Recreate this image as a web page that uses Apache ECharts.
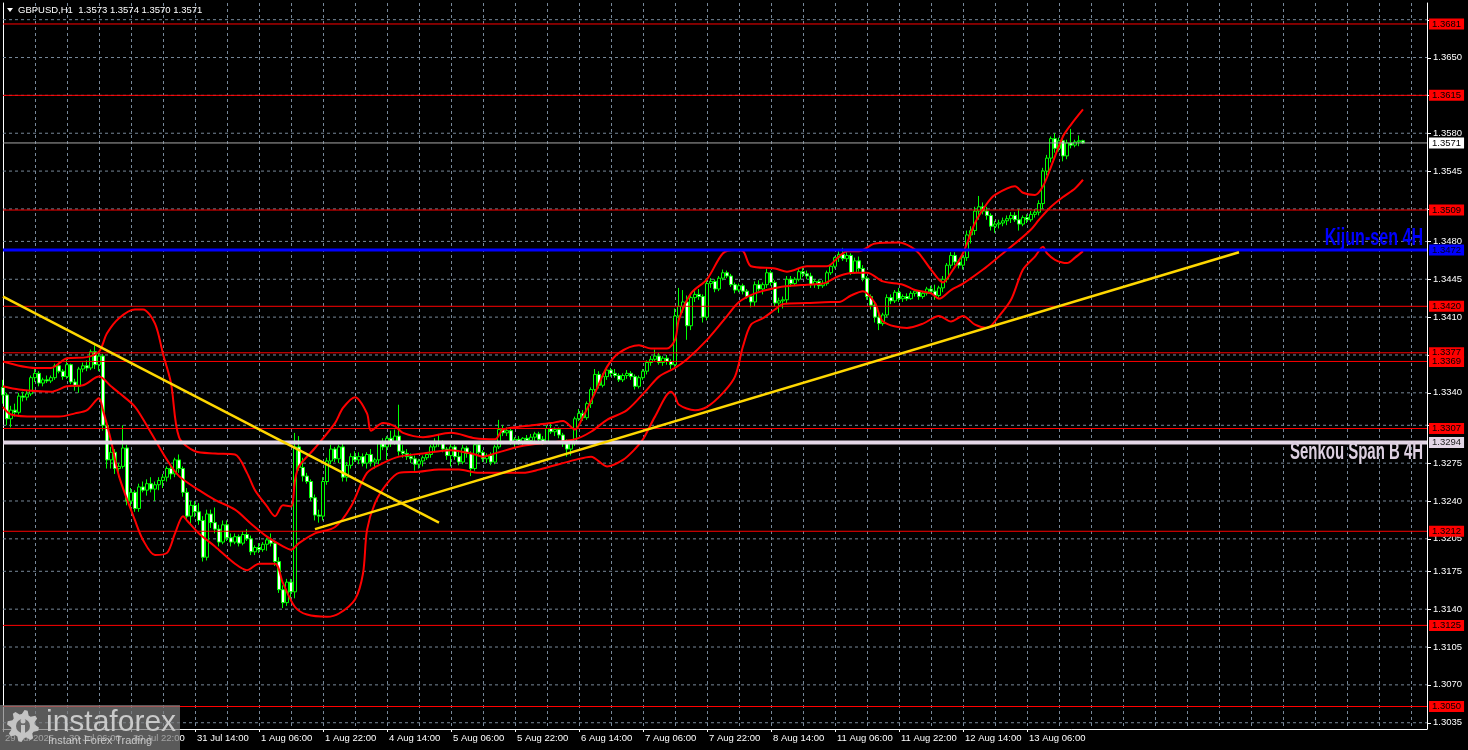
<!DOCTYPE html>
<html><head><meta charset="utf-8">
<script src="https://cdn.jsdelivr.net/npm/echarts@6/dist/echarts.min.js"></script>
<style>html,body{margin:0;padding:0;background:#000;}#main{width:1468px;height:750px;}</style>
</head><body><div id="main"></div>
<script>
// ---------------- DATA ----------------
const symbolTitle = 'GBPUSD,H1';
// hourly candles [open, high, low, close], grouped by trading day (server time)
const jul29 = [
[1.3345,1.3352,1.3330,1.3338],[1.3338,1.3340,1.3310,1.3316],[1.3316,1.3328,1.3308,1.3324],[1.3324,1.3330,1.3318,1.3322],
[1.3322,1.3340,1.3320,1.3337],[1.3337,1.3341,1.3332,1.3336],[1.3336,1.3342,1.3333,1.3339],[1.3339,1.3356,1.3337,1.3354],
[1.3354,1.3362,1.3350,1.3358],[1.3358,1.3360,1.3346,1.3349]];
const jul30 = [
[1.3349,1.3354,1.3346,1.3352],[1.3352,1.3356,1.3349,1.3351],[1.3351,1.3356,1.3349,1.3354],[1.3354,1.3367,1.3352,1.3365],
[1.3365,1.3368,1.3358,1.3360],[1.3360,1.3362,1.3352,1.3355],[1.3355,1.3372,1.3353,1.3366],[1.3366,1.3367,1.3348,1.3350],
[1.3350,1.3353,1.3342,1.3346],[1.3346,1.3364,1.3340,1.3362],[1.3362,1.3368,1.3359,1.3365],[1.3365,1.3370,1.3360,1.3363],
[1.3363,1.3380,1.3361,1.3378],[1.3378,1.3384,1.3362,1.3366],[1.3366,1.3377,1.3360,1.3374],[1.3374,1.3376,1.3305,1.3310],
[1.3310,1.3313,1.3270,1.3278],[1.3278,1.3290,1.3270,1.3285],[1.3285,1.3288,1.3265,1.3270],[1.3270,1.3275,1.3262,1.3272],
[1.3272,1.3310,1.3270,1.3289],[1.3289,1.3292,1.3236,1.3240],[1.3240,1.3252,1.3234,1.3248],[1.3248,1.3250,1.3230,1.3233]];
const jul31 = [
[1.3233,1.3256,1.3230,1.3253],[1.3253,1.3258,1.3248,1.3250],[1.3250,1.3260,1.3245,1.3256],[1.3256,1.3262,1.3248,1.3251],
[1.3251,1.3258,1.3240,1.3255],[1.3255,1.3262,1.3250,1.3259],[1.3259,1.3265,1.3252,1.3262],[1.3262,1.3272,1.3258,1.3270],
[1.3270,1.3274,1.3260,1.3265],[1.3265,1.3280,1.3262,1.3278],[1.3278,1.3283,1.3266,1.3270],[1.3270,1.3272,1.3244,1.3248],
[1.3248,1.3252,1.3222,1.3226],[1.3226,1.3240,1.3218,1.3236],[1.3236,1.3240,1.3225,1.3230],[1.3230,1.3238,1.3218,1.3222],
[1.3222,1.3226,1.3184,1.3188],[1.3188,1.3232,1.3185,1.3228],[1.3228,1.3232,1.3215,1.3220],[1.3220,1.3234,1.3210,1.3214],
[1.3214,1.3218,1.3198,1.3202],[1.3202,1.3222,1.3200,1.3218],[1.3218,1.3222,1.3203,1.3206],[1.3206,1.3210,1.3198,1.3202]];
const aug01 = [
[1.3202,1.3210,1.3200,1.3207],[1.3207,1.3209,1.3198,1.3201],[1.3201,1.3212,1.3199,1.3209],[1.3209,1.3214,1.3203,1.3205],
[1.3205,1.3208,1.3190,1.3193],[1.3193,1.3199,1.3190,1.3197],[1.3197,1.3201,1.3192,1.3195],[1.3195,1.3202,1.3193,1.3200],
[1.3200,1.3206,1.3194,1.3204],[1.3204,1.3210,1.3198,1.3201],[1.3201,1.3203,1.3180,1.3184],[1.3184,1.3188,1.3155,1.3158],
[1.3158,1.3162,1.3141,1.3146],[1.3146,1.3168,1.3143,1.3165],[1.3165,1.3168,1.3150,1.3156],[1.3156,1.3303,1.3150,1.3290],
[1.3290,1.3300,1.3268,1.3271],[1.3271,1.3280,1.3258,1.3263],[1.3263,1.3266,1.3256,1.3258],[1.3258,1.3260,1.3240,1.3243],
[1.3243,1.3246,1.3222,1.3227],[1.3227,1.3232,1.3220,1.3226],[1.3226,1.3262,1.3222,1.3258],[1.3258,1.3280,1.3255,1.3277]];
const aug04 = [
[1.3277,1.3292,1.3274,1.3288],[1.3288,1.3290,1.3276,1.3279],[1.3279,1.3292,1.3275,1.3290],[1.3290,1.3293,1.3258,1.3262],
[1.3262,1.3276,1.3258,1.3273],[1.3273,1.3284,1.3270,1.3281],[1.3281,1.3286,1.3276,1.3278],[1.3278,1.3285,1.3274,1.3281],
[1.3281,1.3284,1.3272,1.3275],[1.3275,1.3285,1.3270,1.3283],[1.3283,1.3288,1.3272,1.3276],[1.3276,1.3280,1.3270,1.3278],
[1.3278,1.3295,1.3274,1.3293],[1.3293,1.3298,1.3287,1.3290],[1.3290,1.3300,1.3278,1.3298],[1.3298,1.3305,1.3290,1.3294],
[1.3294,1.3306,1.3292,1.3300],[1.3300,1.3329,1.3282,1.3286],[1.3286,1.3292,1.3280,1.3284],[1.3284,1.3288,1.3278,1.3281],
[1.3281,1.3284,1.3275,1.3279],[1.3279,1.3282,1.3268,1.3274],[1.3274,1.3279,1.3270,1.3277],[1.3277,1.3282,1.3272,1.3280]];
const aug05 = [
[1.3280,1.3285,1.3278,1.3283],[1.3283,1.3292,1.3280,1.3290],[1.3290,1.3298,1.3286,1.3295],[1.3295,1.3302,1.3290,1.3293],
[1.3293,1.3296,1.3285,1.3288],[1.3288,1.3290,1.3278,1.3282],[1.3282,1.3293,1.3272,1.3290],[1.3290,1.3292,1.3278,1.3281],
[1.3281,1.3286,1.3273,1.3276],[1.3276,1.3292,1.3274,1.3289],[1.3289,1.3291,1.3280,1.3284],[1.3284,1.3286,1.3263,1.3270],
[1.3270,1.3294,1.3268,1.3292],[1.3292,1.3295,1.3283,1.3285],[1.3285,1.3287,1.3276,1.3279],[1.3279,1.3284,1.3275,1.3282],
[1.3282,1.3285,1.3273,1.3276],[1.3276,1.3292,1.3274,1.3290],[1.3290,1.3315,1.3288,1.3306],[1.3306,1.3310,1.3300,1.3303],
[1.3303,1.3308,1.3300,1.3305],[1.3305,1.3307,1.3292,1.3294],[1.3294,1.3299,1.3290,1.3297],[1.3297,1.3300,1.3292,1.3295]];
const aug06 = [
[1.3295,1.3299,1.3292,1.3298],[1.3298,1.3301,1.3293,1.3296],[1.3296,1.3302,1.3294,1.3299],[1.3299,1.3304,1.3295,1.3302],
[1.3302,1.3304,1.3294,1.3297],[1.3297,1.3300,1.3292,1.3295],[1.3295,1.3310,1.3293,1.3307],[1.3307,1.3312,1.3302,1.3304],
[1.3304,1.3308,1.3300,1.3306],[1.3306,1.3308,1.3298,1.3301],[1.3301,1.3303,1.3290,1.3293],[1.3293,1.3297,1.3281,1.3288],
[1.3288,1.3296,1.3282,1.3294],[1.3294,1.3318,1.3291,1.3316],[1.3316,1.3325,1.3314,1.3321],[1.3321,1.3324,1.3314,1.3317],
[1.3317,1.3332,1.3315,1.3330],[1.3330,1.3345,1.3326,1.3343],[1.3343,1.3362,1.3340,1.3357],[1.3357,1.3360,1.3344,1.3347],
[1.3347,1.3358,1.3345,1.3355],[1.3355,1.3364,1.3352,1.3361],[1.3361,1.3363,1.3355,1.3358],[1.3358,1.3362,1.3354,1.3356]];
const aug07 = [
[1.3356,1.3358,1.3350,1.3352],[1.3352,1.3358,1.3350,1.3356],[1.3356,1.3361,1.3353,1.3358],[1.3358,1.3360,1.3352,1.3355],
[1.3355,1.3357,1.3343,1.3346],[1.3346,1.3356,1.3344,1.3354],[1.3354,1.3362,1.3352,1.3360],[1.3360,1.3370,1.3357,1.3368],
[1.3368,1.3374,1.3365,1.3371],[1.3371,1.3380,1.3369,1.3374],[1.3374,1.3377,1.3366,1.3368],[1.3368,1.3374,1.3365,1.3372],
[1.3372,1.3375,1.3366,1.3369],[1.3369,1.3371,1.3362,1.3366],[1.3366,1.3418,1.3364,1.3411],[1.3411,1.3437,1.3408,1.3420],
[1.3420,1.3435,1.3414,1.3424],[1.3424,1.3430,1.3389,1.3402],[1.3402,1.3432,1.3398,1.3428],[1.3428,1.3434,1.3424,1.3431],
[1.3431,1.3436,1.3426,1.3429],[1.3429,1.3431,1.3405,1.3410],[1.3410,1.3446,1.3407,1.3441],[1.3441,1.3446,1.3437,1.3443]];
const aug08 = [
[1.3443,1.3445,1.3433,1.3436],[1.3436,1.3448,1.3434,1.3446],[1.3446,1.3454,1.3444,1.3451],[1.3451,1.3453,1.3446,1.3448],
[1.3448,1.3450,1.3438,1.3440],[1.3440,1.3442,1.3432,1.3435],[1.3435,1.3441,1.3433,1.3439],[1.3439,1.3441,1.3431,1.3434],
[1.3434,1.3436,1.3427,1.3429],[1.3429,1.3430,1.3419,1.3424],[1.3424,1.3443,1.3420,1.3440],[1.3440,1.3444,1.3434,1.3436],
[1.3436,1.3442,1.3431,1.3440],[1.3440,1.3455,1.3437,1.3451],[1.3451,1.3453,1.3439,1.3442],[1.3442,1.3444,1.3420,1.3423],
[1.3423,1.3428,1.3414,1.3425],[1.3425,1.3429,1.3418,1.3426],[1.3426,1.3448,1.3422,1.3445],[1.3445,1.3448,1.3438,1.3441],
[1.3441,1.3447,1.3439,1.3445],[1.3445,1.3455,1.3443,1.3452],[1.3452,1.3456,1.3447,1.3450],[1.3450,1.3453,1.3445,1.3448]];
const aug11 = [
[1.3448,1.3451,1.3437,1.3440],[1.3440,1.3445,1.3437,1.3443],[1.3443,1.3445,1.3436,1.3439],[1.3439,1.3444,1.3437,1.3441],
[1.3441,1.3453,1.3439,1.3451],[1.3451,1.3459,1.3449,1.3457],[1.3457,1.3466,1.3455,1.3465],[1.3465,1.3471,1.3461,1.3468],
[1.3468,1.3474,1.3462,1.3464],[1.3464,1.3470,1.3461,1.3467],[1.3467,1.3469,1.3449,1.3451],[1.3451,1.3465,1.3450,1.3462],
[1.3462,1.3466,1.3452,1.3455],[1.3455,1.3458,1.3443,1.3446],[1.3446,1.3448,1.3426,1.3429],[1.3429,1.3431,1.3417,1.3421],
[1.3421,1.3424,1.3405,1.3410],[1.3410,1.3415,1.3398,1.3404],[1.3404,1.3414,1.3402,1.3412],[1.3412,1.3431,1.3410,1.3428],
[1.3428,1.3431,1.3422,1.3425],[1.3425,1.3435,1.3423,1.3433],[1.3433,1.3437,1.3424,1.3427],[1.3427,1.3431,1.3424,1.3429]];
const aug12 = [
[1.3429,1.3432,1.3425,1.3427],[1.3427,1.3434,1.3426,1.3432],[1.3432,1.3436,1.3429,1.3434],[1.3434,1.3435,1.3426,1.3429],
[1.3429,1.3434,1.3427,1.3432],[1.3432,1.3438,1.3430,1.3436],[1.3436,1.3439,1.3432,1.3434],[1.3434,1.3440,1.3426,1.3430],
[1.3430,1.3439,1.3428,1.3437],[1.3437,1.3448,1.3433,1.3445],[1.3445,1.3460,1.3442,1.3458],[1.3458,1.3470,1.3455,1.3467],
[1.3467,1.3470,1.3458,1.3461],[1.3461,1.3463,1.3455,1.3458],[1.3458,1.3468,1.3454,1.3465],[1.3465,1.3490,1.3462,1.3486],
[1.3486,1.3494,1.3478,1.3490],[1.3490,1.3512,1.3486,1.3508],[1.3508,1.3522,1.3500,1.3512],[1.3512,1.3516,1.3505,1.3508],
[1.3508,1.3512,1.3500,1.3504],[1.3504,1.3506,1.3490,1.3494],[1.3494,1.3499,1.3488,1.3496],[1.3496,1.3500,1.3492,1.3497]];
const aug13 = [
[1.3497,1.3502,1.3494,1.3499],[1.3499,1.3504,1.3495,1.3501],[1.3501,1.3507,1.3497,1.3504],[1.3504,1.3507,1.3498,1.3500],
[1.3500,1.3510,1.3490,1.3496],[1.3496,1.3504,1.3494,1.3502],[1.3502,1.3505,1.3497,1.3500],[1.3500,1.3508,1.3498,1.3505],
[1.3505,1.3510,1.3502,1.3507],[1.3507,1.3518,1.3504,1.3515],[1.3515,1.3548,1.3510,1.3545],[1.3545,1.3560,1.3541,1.3557],
[1.3557,1.3577,1.3553,1.3575],[1.3575,1.3580,1.3562,1.3566],[1.3566,1.3576,1.3563,1.3573],[1.3573,1.3578,1.3554,1.3559],
[1.3559,1.3574,1.3556,1.3571],[1.3571,1.3584,1.3566,1.3569],[1.3569,1.3574,1.3567,1.3572],[1.3572,1.3578,1.3568,1.3573],
[1.3573,1.3574,1.3570,1.3571]];

// Bollinger bands: [bar index, price]
const bbUpper = [[0,1.3369],[8,1.3363],[12,1.3363],[16,1.3372],[21,1.3373],[24,1.3378],[26,1.3395],[29,1.3409],[33,1.3417],[35,1.3417],[38,1.3404],[40,1.3376],[42,1.3349],[44,1.3299],[48,1.3286],[53,1.3284],[58,1.3283],[61,1.3266],[63,1.3250],[66,1.3235],[68,1.3226],[70,1.3236],[72,1.3235],[73,1.3259],[74,1.3272],[78,1.3289],[83,1.3312],[85,1.3326],[88,1.3336],[91,1.3321],[92,1.3305],[95,1.3312],[98,1.3309],[100,1.3303],[105,1.3299],[112,1.3303],[118,1.3298],[123,1.3297],[125,1.3306],[130,1.3309],[137,1.3312],[140,1.3314],[143,1.3306],[145,1.3318],[148,1.3340],[151,1.3364],[154,1.3377],[159,1.3384],[162,1.3381],[166,1.3381],[168,1.3389],[169,1.3408],[172,1.3432],[176,1.3445],[180,1.3469],[183,1.3472],[185,1.3471],[187,1.3457],[193,1.3455],[196,1.3452],[201,1.3457],[206,1.3457],[209,1.3466],[211,1.3471],[214,1.3471],[218,1.3478],[224,1.3479],[227,1.3475],[229,1.3469],[232,1.3454],[235,1.3442],[237,1.3451],[240,1.3469],[243,1.3497],[246,1.3515],[248,1.3523],[253,1.3531],[255,1.3525],[258,1.3523],[260,1.3531],[262,1.3549],[265,1.3577],[267,1.3588],[270,1.3602]];
const bbMiddle = [[0,1.3346],[4,1.3343],[12,1.3341],[16,1.3346],[20,1.3347],[24,1.3355],[27,1.3346],[29,1.3340],[33,1.3327],[37,1.3303],[41,1.3278],[44,1.3263],[49,1.3250],[53,1.3241],[58,1.3232],[62,1.3219],[66,1.3207],[70,1.3198],[72,1.3195],[74,1.3201],[78,1.3210],[83,1.3216],[87,1.3235],[91,1.3266],[95,1.3275],[99,1.3281],[105,1.3284],[112,1.3287],[118,1.3283],[120,1.3281],[123,1.3284],[130,1.3291],[137,1.3294],[143,1.3297],[147,1.3304],[151,1.3315],[156,1.3324],[161,1.3343],[164,1.3355],[168,1.3363],[171,1.3371],[176,1.3389],[181,1.3411],[184,1.3424],[188,1.3432],[193,1.3437],[197,1.3439],[201,1.3440],[205,1.3441],[209,1.3448],[213,1.3451],[216,1.3451],[220,1.3443],[225,1.3440],[228,1.3435],[232,1.3432],[234,1.3427],[237,1.3435],[240,1.3441],[245,1.3454],[249,1.3466],[253,1.3478],[257,1.3491],[259,1.3500],[262,1.3512],[265,1.3521],[268,1.3529],[270,1.3537]];
const bbLower = [[0,1.3327],[2,1.3320],[8,1.3318],[14,1.3318],[18,1.3321],[21,1.3324],[24,1.3335],[25,1.3324],[27,1.3296],[29,1.3263],[33,1.3222],[35,1.3204],[38,1.3190],[41,1.3192],[43,1.3210],[45,1.3226],[46,1.3222],[49,1.3210],[53,1.3198],[58,1.3182],[61,1.3176],[64,1.3182],[68,1.3182],[70,1.3164],[73,1.3142],[76,1.3135],[81,1.3133],[84,1.3136],[88,1.3149],[90,1.3173],[91,1.3213],[93,1.3238],[96,1.3256],[99,1.3266],[104,1.3267],[109,1.3269],[114,1.3269],[119,1.3266],[130,1.3266],[134,1.3269],[143,1.3278],[147,1.3281],[151,1.3272],[155,1.3278],[158,1.3288],[160,1.3297],[163,1.3318],[167,1.3341],[168,1.3337],[169,1.3329],[173,1.3324],[176,1.3327],[180,1.3340],[183,1.3355],[185,1.3383],[187,1.3403],[190,1.3409],[193,1.3417],[195,1.3422],[201,1.3423],[207,1.3424],[209,1.3424],[212,1.3430],[215,1.3434],[218,1.3423],[220,1.3406],[226,1.3400],[230,1.3404],[234,1.3411],[237,1.3406],[240,1.3411],[243,1.3403],[246,1.3400],[249,1.3411],[252,1.3426],[255,1.3454],[258,1.3466],[260,1.3475],[261,1.3469],[263,1.3463],[266,1.3460],[268,1.3465],[270,1.3471]];

// trend lines [bar index, price]
const trendDown = [[0,1.3429],[109,1.3220]];
const trendUp = [[78,1.3214],[309,1.3470]];

// horizontal levels
const redLevels = [1.3681,1.3615,1.3509,1.3420,1.3377,1.3369,1.3307,1.3212,1.3125,1.3050];
const kijunLevel = 1.3472;
const senkouLevel = 1.3294;

// price grid / tick labels ('' = hidden behind a level label)
const gridValues = [1.3035,1.3070,1.3105,1.3140,1.3175,1.3205,1.3240,1.3275,1.3310,1.3340,1.3375,1.3410,1.3445,1.3480,1.3510,1.3545,1.3580,1.3615,1.3650,1.3685];
const gridLabels = ['1.3035','1.3070','1.3105','1.3140','1.3175','1.3205','1.3240','1.3275','','1.3340','','1.3410','1.3445','1.3480','','1.3545','1.3580','','1.3650',''];

const yMin = 1.30292, yMax = 1.37004;
const TOTAL_SLOTS = 357;   // bars that fit across the plot (incl. empty future)
const MONTHS = ['Jan','Feb','Mar','Apr','May','Jun','Jul','Aug','Sep','Oct','Nov','Dec'];

// ---------------- BUILD ----------------
const ohlc = [].concat(jul29, jul30, jul31, aug01, aug04, aug05, aug06, aug07, aug08, aug11, aug12, aug13);
const lastIdx = ohlc.length - 1;
const categories = [];
for (let t = Date.UTC(2025, 6, 29, 14); categories.length < TOTAL_SLOTS; t += 3600000) {
  const d = new Date(t); const wd = d.getUTCDay();
  if (wd === 0 || wd === 6) continue;
  const hh = String(d.getUTCHours()).padStart(2, '0');
  categories.push(categories.length === 0
    ? d.getUTCDate() + ' ' + MONTHS[d.getUTCMonth()] + ' ' + d.getUTCFullYear()
    : d.getUTCDate() + ' ' + MONTHS[d.getUTCMonth()] + ' ' + hh + ':00');
}
const candleData = ohlc.map(r => [r[0], r[3], r[2], r[1]]);
const last = ohlc[lastIdx];
const lastPrice = last[3];
const FONT = 'Liberation Sans, Arial, sans-serif';
const endIdx = categories.length - 1;

const hLine = (v, color, width, type, z) => ({type: 'line', data: [[0, v], [endIdx, v]], showSymbol: false,
  silent: true, z, lineStyle: {color, width, type}, emphasis: {disabled: true}});
const bandSeries = (data) => ({type: 'line', data, smooth: 0.3, showSymbol: false, silent: true, z: 4,
  lineStyle: {color: '#FF0000', width: 2}});
const trendSeries = (data) => ({type: 'line', data, showSymbol: false, silent: true, z: 6,
  lineStyle: {color: '#FFD700', width: 2.5}});

const series = [];
gridValues.forEach(v => series.push(hLine(v, '#778899', 1, [3, 3], 1)));
series.push({
  type: 'candlestick', data: candleData, barWidth: 3, z: 3, silent: true,
  itemStyle: {color: '#000000', color0: '#FFFFFF', borderColor: '#00FF00', borderColor0: '#00FF00',
    borderColorDoji: '#00FF00', borderWidth: 1}
});
series.push(bandSeries(bbUpper), bandSeries(bbMiddle), bandSeries(bbLower));
redLevels.forEach(v => series.push(hLine(v, '#FF0000', 1, 'solid', 5)));
series.push(hLine(lastPrice, '#A8A8A8', 1, 'solid', 5));
series.push(hLine(senkouLevel, '#E3D6E6', 4, 'solid', 5));
series.push(hLine(kijunLevel, '#0000FF', 3, 'solid', 5));
series.push(trendSeries(trendDown), trendSeries(trendUp));

const chart = echarts.init(document.getElementById('main'));
chart.setOption({
  backgroundColor: '#000',
  animation: false,
  grid: {left: 3, right: 41, top: 3, bottom: 21, containLabel: false},
  xAxis: {
    type: 'category', data: categories, boundaryGap: false,
    axisLine: {show: true, lineStyle: {color: '#FFFFFF', width: 1}},
    axisTick: {show: true, length: 3, lineStyle: {color: '#FFFFFF'}, interval: (i) => i % 16 === 0 && i <= lastIdx},
    axisLabel: {show: true, interval: (i) => i % 16 === 0 && i <= lastIdx, color: '#FFFFFF', fontSize: 9.5,
      fontFamily: FONT, align: 'left', margin: 4, padding: [0, 0, 0, 2]},
    splitLine: {show: true, interval: (i) => i % 8 === 0 && i > 0, lineStyle: {color: '#778899', type: [3, 3], width: 1}}
  },
  yAxis: [
    {type: 'value', min: yMin, max: yMax, position: 'left', axisLine: {show: true, lineStyle: {color: '#FFFFFF'}},
      axisTick: {show: false}, axisLabel: {show: false}, splitLine: {show: false}},
    {type: 'value', min: yMin, max: yMax, position: 'right', axisLine: {show: true, lineStyle: {color: '#FFFFFF'}},
      axisTick: {show: false}, axisLabel: {show: false}, splitLine: {show: false}}
  ],
  series
});

// ---------------- right-side price labels & annotations ----------------
const py = (v) => chart.convertToPixel({yAxisIndex: 0}, v);
const xR = chart.convertToPixel({xAxisIndex: 0}, endIdx);
const LBL = '9.5px ' + FONT;
const graphics = [];
gridValues.forEach((v, i) => {
  const y = Math.round(py(v)) + 0.5;
  graphics.push({type: 'line', z: 90, shape: {x1: xR, y1: y, x2: xR + 4, y2: y}, style: {stroke: '#FFFFFF', lineWidth: 1}});
  if (gridLabels[i]) graphics.push({type: 'text', z: 90, x: xR + 6, y: py(v),
    style: {text: gridLabels[i], fill: '#FFFFFF', font: LBL, verticalAlign: 'middle'}});
});
const boxLabel = (v, bg, fg) => ({type: 'text', z: 95, x: xR + 2, y: py(v),
  style: {text: v.toFixed(4), fill: fg, font: LBL, verticalAlign: 'middle', backgroundColor: bg,
    padding: [1, 3, 0, 3], lineHeight: 10}});
redLevels.forEach(v => graphics.push(boxLabel(v, '#FF0000', '#000000')));
graphics.push(boxLabel(lastPrice, '#FFFFFF', '#000000'));
graphics.push(boxLabel(senkouLevel, '#E3D6E6', '#222222'));
graphics.push(boxLabel(kijunLevel, '#0000FF', '#000020'));

function gearPolygon(cx, cy, rOut, rIn, teeth) {
  const pts = []; const n = teeth * 4;
  for (let i = 0; i < n; i++) {
    const a = (i / n) * Math.PI * 2 + Math.PI / n;
    const r = (i % 4 < 2) ? rOut : rIn;
    pts.push([cx + r * Math.cos(a), cy + r * Math.sin(a)]);
  }
  return pts;
}

graphics.push(
  {type: 'polygon', z: 100, shape: {points: [[7, 8], [13, 8], [10, 12]]}, style: {fill: '#FFFFFF'}},
  {type: 'text', z: 100, x: 18, y: 10.5, style: {text: symbolTitle + '  ' + last.map(v => v.toFixed(4)).join(' '),
    fill: '#FFFFFF', font: '9.5px ' + FONT, verticalAlign: 'middle'}},
  {type: 'text', z: 100, x: xR - 4, y: py(kijunLevel) - 12, scaleX: 0.67, style: {text: 'Kijun-sen 4H', fill: '#0000FF',
    font: 'bold 24px ' + FONT, align: 'right', verticalAlign: 'middle'}},
  {type: 'text', z: 100, x: xR - 4, y: py(senkouLevel) + 10, scaleX: 0.65, style: {text: 'Senkou Span B 4H', fill: '#DCCFE0',
    font: 'bold 23px ' + FONT, align: 'right', verticalAlign: 'middle'}},
  // watermark logo
  {type: 'rect', z: 110, shape: {x: 0, y: 705, width: 180, height: 45}, style: {fill: 'rgba(125,125,125,0.72)'}},
  {type: 'polygon', z: 111, shape: {points: gearPolygon(23, 726, 16, 12, 8)}, style: {fill: '#C4C4C4'}},
  {type: 'circle', z: 112, shape: {cx: 23, cy: 726, r: 7}, style: {fill: '#6A6A6A'}},
  {type: 'circle', z: 113, shape: {cx: 23, cy: 721, r: 2.5}, style: {fill: '#C4C4C4'}},
  {type: 'rect', z: 113, shape: {x: 21, y: 725, width: 4, height: 10}, style: {fill: '#C4C4C4'}},
  {type: 'text', z: 111, x: 46, y: 723, style: {text: 'instaforex', fill: '#CACACA', font: '30px ' + FONT, verticalAlign: 'middle'}},
  {type: 'text', z: 111, x: 48, y: 741, style: {text: 'Instant Forex Trading', fill: '#C8C8C8', font: '11px ' + FONT, verticalAlign: 'middle'}}
);
chart.setOption({graphic: graphics});
</script></body></html>
